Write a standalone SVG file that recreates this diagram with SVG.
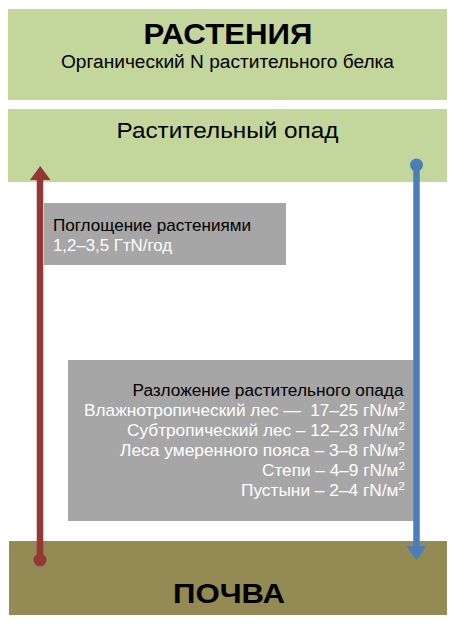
<svg xmlns="http://www.w3.org/2000/svg" width="459" height="629" viewBox="0 0 459 629">
<style>
.t{font-family:"Liberation Sans",Arial,sans-serif;}
.b{font-weight:bold;}
.w{fill:#ffffff;}
.k{fill:#000000;}
.green{fill:#c3d69b;}
.grey{fill:#a6a6a6;}
.sup{font-size:11px;}
</style>
<rect width="459" height="629" fill="#ffffff"/>
<g id="plants">
<rect class="green" x="8" y="9" width="439" height="91"/>
<text class="t b k" x="228" y="43.5" font-size="30" text-anchor="middle" textLength="169" lengthAdjust="spacingAndGlyphs">РАСТЕНИЯ</text>
<text class="t k" x="227.5" y="68" font-size="18" text-anchor="middle" textLength="333" lengthAdjust="spacingAndGlyphs">Органический N растительного белка</text>
</g>
<g id="litter">
<rect class="green" x="8" y="109" width="439" height="73"/>
<text class="t k" x="227.5" y="138.3" font-size="22.5" text-anchor="middle" textLength="222" lengthAdjust="spacingAndGlyphs">Растительный опад</text>
</g>
<g id="soil">
<rect x="9" y="541" width="438" height="74" fill="#948a54"/>
<text class="t b k" x="229" y="603" font-size="28" text-anchor="middle" textLength="112" lengthAdjust="spacingAndGlyphs">ПОЧВА</text>
</g>
<g id="uptake">
<rect class="grey" x="44" y="203" width="242" height="62"/>
<text class="t k" x="53" y="231" font-size="17" textLength="198" lengthAdjust="spacingAndGlyphs">Поглощение растениями</text>
<text class="t w" x="53" y="250.5" font-size="17" textLength="119" lengthAdjust="spacingAndGlyphs">1,2–3,5 ГтN/год</text>
</g>
<g id="decomp">
<rect class="grey" x="68" y="360" width="346" height="161"/>
<g class="t" font-size="16" text-anchor="end">
<text class="k" x="403.5" y="396" textLength="271" lengthAdjust="spacingAndGlyphs">Разложение растительного опада</text>
<text class="w" x="405" y="416" textLength="321" lengthAdjust="spacingAndGlyphs" xml:space="preserve">Влажнотропический лес —  17–25 гN/м<tspan class="sup" dy="-6">2</tspan></text>
<text class="w" x="405" y="436" textLength="278" lengthAdjust="spacingAndGlyphs">Субтропический лес – 12–23 гN/м<tspan class="sup" dy="-6">2</tspan></text>
<text class="w" x="405" y="456" textLength="285" lengthAdjust="spacingAndGlyphs">Леса умеренного пояса – 3–8 гN/м<tspan class="sup" dy="-6">2</tspan></text>
<text class="w" x="405" y="476" textLength="143" lengthAdjust="spacingAndGlyphs">Степи – 4–9 гN/м<tspan class="sup" dy="-6">2</tspan></text>
<text class="w" x="405" y="496" textLength="164" lengthAdjust="spacingAndGlyphs">Пустыни – 2–4 гN/м<tspan class="sup" dy="-6">2</tspan></text>
</g>
</g>
<g id="connectors">
<line x1="40" y1="560" x2="40" y2="179" stroke="#953735" stroke-width="6.5"/>
<circle cx="40" cy="560" r="6.5" fill="#953735"/>
<polygon points="30,180 50.5,180 40.25,166" fill="#953735"/>
<line x1="416.5" y1="165" x2="416.5" y2="547" stroke="#4a7ebb" stroke-width="6.5"/>
<circle cx="416.5" cy="165" r="6.5" fill="#4a7ebb"/>
<polygon points="406.5,546 426.5,546 416.5,560" fill="#4a7ebb"/>
</g>
</svg>
